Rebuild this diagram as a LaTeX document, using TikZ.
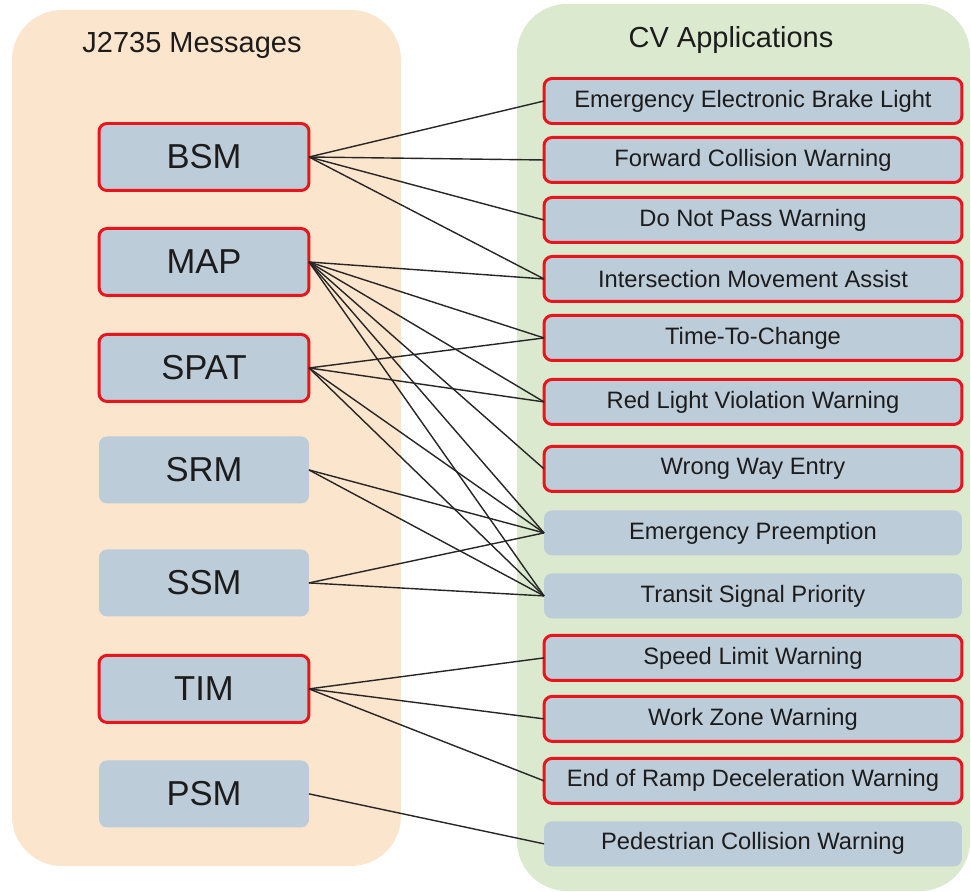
\documentclass[tikz,border=0pt]{standalone}
\usepackage{fontspec}
\setmainfont{Liberation Sans}
\usetikzlibrary{positioning, backgrounds}

\definecolor{msgpanel}{RGB}{252,229,205}
\definecolor{apppanel}{RGB}{219,233,207}
\definecolor{boxfill}{RGB}{189,204,217}
\definecolor{boxred}{RGB}{232,22,28}
\definecolor{boxtext}{RGB}{28,28,28}

\begin{document}
\begin{tikzpicture}[
    x=0.02cm, y=-0.02cm,
    box/.style={rectangle, fill=boxfill, rounded corners=0.16cm, outer sep=0pt, inner sep=0pt, align=center, text=boxtext},
    msg/.style={box, minimum width=4.2cm, minimum height=1.34cm, font=\fontsize{19.7}{22}\selectfont},
    app/.style={box, minimum width=8.36cm, minimum height=0.9cm, font=\fontsize{13.5}{16}\selectfont},
    used/.style={draw=boxred, line width=1.7pt},
    title/.style={font=\fontsize{16.5}{19}\selectfont, text=boxtext},
    link/.style={line width=0.8pt, black!85}
]
\useasboundingbox (0,0) rectangle (971,892);

% the two panels
\fill[msgpanel, rounded corners=1cm] (12,10) rectangle (401,866);
\fill[apppanel, rounded corners=1cm] (517,4) rectangle (970,891);

\node[title] (msg_label) at (192,45) {J2735 Messages};
\node[title] (app_label) at (731,40) {CV Applications};

% messages
\node[msg, used] (bsm) at (204,157) {BSM};
\node[msg, used, below=0.76cm of bsm] (map) {MAP};
\node[msg, used, below=0.78cm of map] (spat) {SPAT};
\node[msg, below=0.70cm of spat] (srm) {SRM};
\node[msg, below=0.92cm of srm] (ssm) {SSM};
\node[msg, used, below=0.78cm of ssm] (tim) {TIM};
\node[msg, below=0.76cm of tim] (psm) {PSM};

% applications
\node[app, used] (eebl) at (753,101) {Emergency Electronic Brake Light};
\node[app, used, below=0.28cm of eebl] (fcw) {Forward Collision Warning};
\node[app, used, below=0.30cm of fcw] (dnpw) {Do Not Pass Warning};
\node[app, used, below=0.28cm of dnpw] (ima) {Intersection Movement Assist};
\node[app, used, below=0.28cm of ima] (ttc) {Time-To-Change};
\node[app, used, below=0.38cm of ttc] (rlvw) {Red Light Violation Warning};
\node[app, used, below=0.44cm of rlvw] (wwe) {Wrong Way Entry};
\node[app, below=0.38cm of wwe] (ep) {Emergency Preemption};
\node[app, below=0.36cm of ep] (tsp) {Transit Signal Priority};
\node[app, used, below=0.34cm of tsp] (slw) {Speed Limit Warning};
\node[app, used, below=0.32cm of slw] (wzw) {Work Zone Warning};
\node[app, used, below=0.34cm of wzw] (erdw) {End of Ramp Deceleration Warning};
\node[app, below=0.36cm of erdw] (pcw) {Pedestrian Collision Warning};

% BSM
\draw[link] (bsm.east) -- (eebl.west);
\draw[link] (bsm.east) -- (fcw.west);
\draw[link] (bsm.east) -- (dnpw.west);
\draw[link] (bsm.east) -- (ima.west);
% MAP
\draw[link] (map.east) -- (ima.west);
\draw[link] (map.east) -- (ttc.west);
\draw[link] (map.east) -- (rlvw.west);
\draw[link] (map.east) -- (wwe.west);
\draw[link] (map.east) -- (ep.west);
\draw[link] (map.east) -- (tsp.west);
% SPAT
\draw[link] (spat.east) -- (ttc.west);
\draw[link] (spat.east) -- (rlvw.west);
\draw[link] (spat.east) -- (ep.west);
\draw[link] (spat.east) -- (tsp.west);
% SRM, SSM
\draw[link] (srm.east) -- (ep.west);
\draw[link] (srm.east) -- (tsp.west);
\draw[link] (ssm.east) -- (ep.west);
\draw[link] (ssm.east) -- (tsp.west);
% TIM, PSM
\draw[link] (tim.east) -- (slw.west);
\draw[link] (tim.east) -- (wzw.west);
\draw[link] (tim.east) -- (erdw.west);
\draw[link] (psm.east) -- (pcw.west);

\end{tikzpicture}
\end{document}
